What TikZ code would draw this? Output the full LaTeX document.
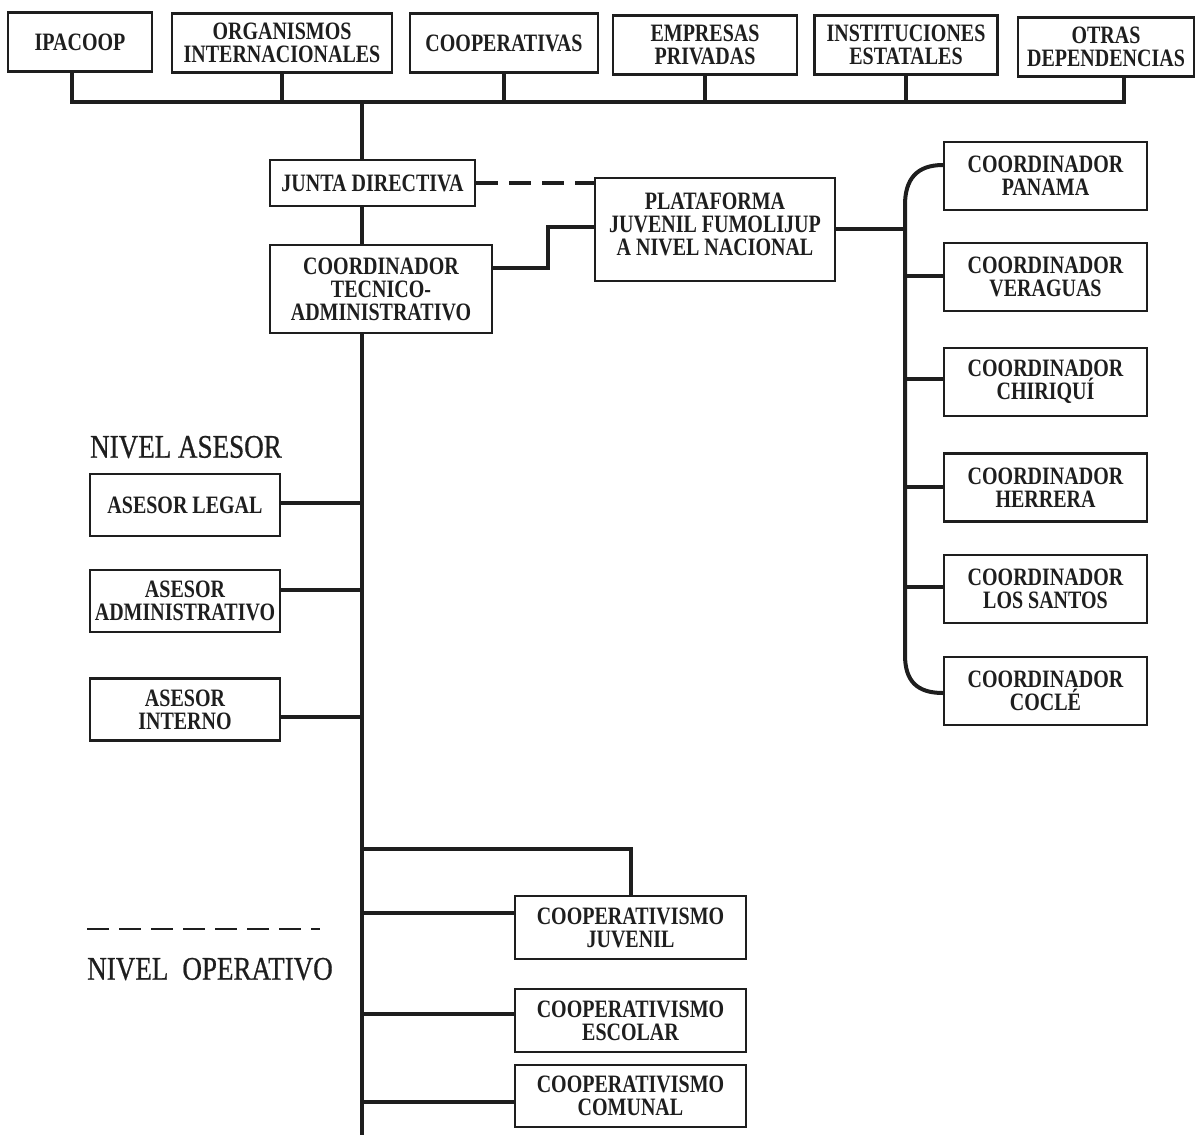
\documentclass[tikz,border=0pt]{standalone}
\usepackage{fontspec}
\setmainfont{Liberation Serif}
\newfontfamily\boxfam[FakeStretch=0.8]{Liberation Serif}
\newfontfamily\levfam[FakeStretch=0.82,FakeBold=0.6]{Liberation Serif}
\usetikzlibrary{calc}
\definecolor{ink}{HTML}{1E1E1E}
\newcommand\boxfont{\boxfam\bfseries\fontsize{25}{23}\selectfont}
\newcommand\levfont{\levfam\fontsize{33}{36}\selectfont}
\tikzset{
  box/.style={draw=ink, line width=2.2pt, fill=white, align=center, inner sep=0pt, font=\boxfont, text=ink},
  topbox/.style={box, minimum height=59pt},
  regbox/.style={box, minimum width=203pt, minimum height=68pt},
  asebox/.style={box, minimum width=190pt, minimum height=62pt},
  opbox/.style={box, minimum width=231pt, minimum height=63pt},
  link/.style={draw=ink, line width=4pt},
  dashlink/.style={draw=ink, line width=4pt, dash pattern=on 22pt off 11pt},
  sepline/.style={draw=ink, line width=2.2pt, dash pattern=on 22pt off 10pt},
  level/.style={font=\levfont, text=ink, inner sep=0pt}
}
\begin{document}
\begin{tikzpicture}[x=1pt,y=-1pt]
\useasboundingbox[fill=white] (0,0) rectangle (1195,1135);

% top row
\node[topbox, minimum width=144pt] (ipa)   at (80,42)    {IPACOOP};
\node[topbox, minimum width=220pt] (org)   at (282,43)   {ORGANISMOS\\INTERNACIONALES};
\node[topbox, minimum width=188pt] (coop)  at (504,43)   {COOPERATIVAS};
\node[topbox, minimum width=184pt] (emp)   at (705,45)   {EMPRESAS\\PRIVADAS};
\node[topbox, minimum width=183pt] (inst)  at (906,45)   {INSTITUCIONES\\ESTATALES};
\node[topbox, minimum width=176pt] (otras) at (1106,47)  {OTRAS\\DEPENDENCIAS};

\coordinate (busL) at (72,102);
\coordinate (busR) at (1124,102);
\coordinate (spinetop) at (362,102);
\coordinate (spinebot) at (362,1135);

\draw[link] (ipa.south -| busL) -- (busL) -- (busR) -- (otras.south -| busR);
\foreach \n in {org,coop,emp,inst} \draw[link] (\n.south) -- (\n.south |- busL);

% central column
\node[box, minimum width=205pt, minimum height=46pt] (junta) at (372.5,183) {JUNTA DIRECTIVA};
\node[box, minimum width=222pt, minimum height=88pt] (coord) at (381,289) {COORDINADOR\\TECNICO-\\ADMINISTRATIVO};
\node[box, minimum width=240pt, minimum height=103pt] (plat) at (715,229.5) {PLATAFORMA\\JUVENIL FUMOLIJUP\\A NIVEL NACIONAL\\[-12pt]};

\draw[link] (spinetop) -- (spinetop |- junta.north);
\draw[link] (spinetop |- junta.south) -- (spinetop |- coord.north);
\draw[link] (spinetop |- coord.south) -- (spinebot);

\draw[dashlink] (junta.east) -- (junta.east -| plat.west);
\coordinate (coordP) at ($(coord.east)+(0,-21)$);
\coordinate (platP) at ($(plat.west)+(0,-3)$);
\draw[link] (coordP) -- ++(55,0) |- (platP);

% regional coordinators
\node[regbox] (pan) at (1045.5,176)   {COORDINADOR\\PANAMA};
\node[regbox] (ver) at (1045.5,277)   {COORDINADOR\\VERAGUAS};
\node[regbox] (chi) at (1045.5,382)   {COORDINADOR\\CHIRIQUÍ};
\node[regbox] (her) at (1045.5,487.5) {COORDINADOR\\HERRERA};
\node[regbox] (los) at (1045.5,589)   {COORDINADOR\\LOS SANTOS};
\node[regbox] (coc) at (1045.5,691)   {COORDINADOR\\COCLÉ};

\coordinate (brkT) at (905,205);
\coordinate (brkB) at (905,655);
\coordinate (panP) at ($(pan.west)+(0,-11)$);
\coordinate (cocP) at ($(coc.west)+(0,2)$);
\draw[link] (panP) .. controls +(-26,0) and +(0,-26) .. (brkT) -- (brkB)
            .. controls +(0,26) and +(-26,0) .. (cocP);
\coordinate (platE) at ($(plat.east)+(0,-1)$);
\coordinate (verP) at ($(ver.west)+(0,-1)$);
\coordinate (chiP) at ($(chi.west)+(0,-3)$);
\coordinate (herP) at ($(her.west)+(0,-1)$);
\coordinate (losP) at ($(los.west)+(0,-2)$);
\foreach \p in {platE,verP,chiP,herP,losP} \draw[link] (\p) -- (\p -| brkT);

% advisory level
\node[level] (nase) at (186,447) {NIVEL ASESOR};
\node[asebox] (legal) at (185,505) {ASESOR LEGAL};
\node[asebox] (adm)   at (185,601) {ASESOR\\ADMINISTRATIVO};
\node[asebox] (int)   at (185,709.5) {ASESOR\\INTERNO};

\coordinate (legalP) at ($(legal.east)+(0,-2)$);
\coordinate (admP) at ($(adm.east)+(0,-11)$);
\coordinate (intP) at ($(int.east)+(0,7)$);
\foreach \p in {legalP,admP,intP} \draw[link] (\p) -- (\p -| spinetop);

% operative level
\coordinate (sepL) at (87,929);
\coordinate (sepR) at (320,929);
\draw[sepline] (sepL) -- (sepR);
\node[level] (nope) at (210,969) {NIVEL\hspace{14pt}OPERATIVO};

\node[opbox] (juv) at (630.5,927.5) {COOPERATIVISMO\\JUVENIL};
\node[opbox] (esc) at (630.5,1020.5) {COOPERATIVISMO\\ESCOLAR};
\node[opbox, minimum height=62pt] (com) at (630.5,1096) {COOPERATIVISMO\\COMUNAL};

\coordinate (opTop) at (362,849);
\draw[link] (opTop) -| (juv.north);
\coordinate (juvP) at ($(juv.west)+(0,-14.5)$);
\coordinate (escP) at ($(esc.west)+(0,-6.5)$);
\coordinate (comP) at ($(com.west)+(0,6)$);
\foreach \p in {juvP,escP,comP} \draw[link] (\p) -- (\p -| spinetop);
\end{tikzpicture}
\end{document}
